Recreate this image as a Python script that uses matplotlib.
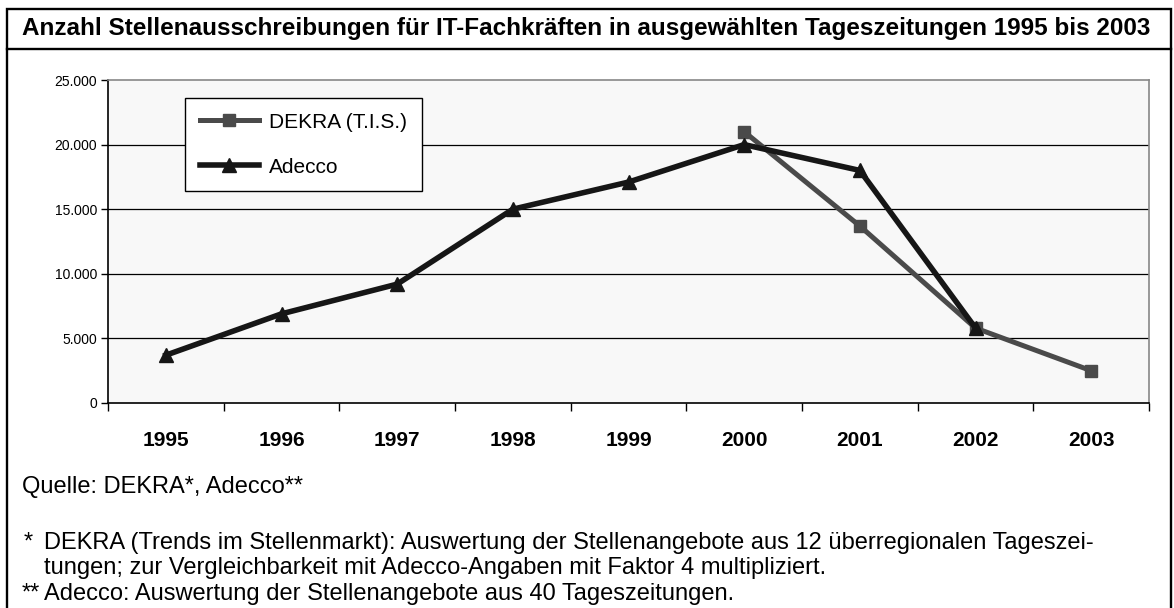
# -*- coding: utf-8 -*-
import matplotlib
matplotlib.use("Agg")
import matplotlib.pyplot as plt
from matplotlib.lines import Line2D
from matplotlib.patches import Rectangle

plt.rcParams['font.family'] = ['Liberation Sans', 'DejaVu Sans']

# Daten
years = ["1995", "1996", "1997", "1998", "1999", "2000", "2001", "2002", "2003"]
adecco = [3700, 6900, 9200, 15000, 17100, 20000, 18000, 5800, None]
dekra = [None, None, None, None, None, 21000, 13700, 5800, 2500]
y_ticks = [0, 5000, 10000, 15000, 20000, 25000]
y_labels = ["0", "5.000", "10.000", "15.000", "20.000", "25.000"]

title = "Anzahl Stellenausschreibungen für IT-Fachkräften in ausgewählten Tageszeitungen 1995 bis 2003"
quelle = "Quelle: DEKRA*, Adecco**"
note1 = ["DEKRA (Trends im Stellenmarkt): Auswertung der Stellenangebote aus 12 überregionalen Tageszei-",
         "tungen; zur Vergleichbarkeit mit Adecco-Angaben mit Faktor 4 multipliziert."]
note2 = "Adecco: Auswertung der Stellenangebote aus 40 Tageszeitungen."

W, H = 1174, 608


def fx(px):
    return px / W


def fy(py):
    return 1 - py / H


fig = plt.figure(figsize=(W / 100, H / 100), dpi=100)

# Rahmen und Titelzeile
fig.patches.append(Rectangle((fx(7), fy(640)), fx(1171) - fx(7), fy(9) - fy(640),
                             transform=fig.transFigure, fill=False, lw=1.7, ec="black"))
fig.lines.append(Line2D([fx(7), fx(1171)], [fy(49), fy(49)], transform=fig.transFigure,
                        lw=1.7, color="black"))
fig.text(fx(22), fy(29), title, fontsize=17.5, fontweight="bold", va="center", ha="left")

# Diagramm
ax_l, ax_r, ax_t, ax_b = 108, 1149, 80, 403
ax = fig.add_axes([fx(ax_l), fy(ax_b), fx(ax_r) - fx(ax_l), fy(ax_t) - fy(ax_b)])
ax.set_facecolor("#f8f8f8")
x = list(range(len(years)))

xd = [i for i, v in zip(x, dekra) if v is not None]
yd = [v for v in dekra if v is not None]
xa = [i for i, v in zip(x, adecco) if v is not None]
ya = [v for v in adecco if v is not None]

ax.plot(xd, yd, color="#4a4a4a", lw=3.6, marker="s", ms=9, label="DEKRA (T.I.S.)", zorder=3)
ax.plot(xa, ya, color="#161616", lw=4, marker="^", ms=10, label="Adecco", zorder=4)

ax.set_xlim(-0.5, len(years) - 0.5)
ax.set_ylim(0, 25000)
ax.set_yticks(y_ticks, labels=y_labels)
ax.set_xticks([i - 0.5 for i in range(len(years) + 1)], labels=[])
ax.set_xticks(x, labels=years, minor=True)
ax.tick_params(axis="x", which="minor", length=0, pad=20, labelsize=15)
ax.tick_params(axis="x", which="major", length=6, width=1, direction="out")
ax.tick_params(axis="y", length=5, width=1, labelsize=10, pad=3)
for lab in ax.get_xticklabels(minor=True):
    lab.set_fontweight("bold")

for v in y_ticks[1:-1]:
    ax.axhline(v, color="black", lw=0.9, zorder=1)

ax.spines["left"].set_color("black")
ax.spines["bottom"].set_color("black")
ax.spines["top"].set_color("#888888")
ax.spines["right"].set_color("#888888")
for s in ax.spines.values():
    s.set_linewidth(1.2)

leg = ax.legend(loc="upper left",
                bbox_to_anchor=((185 - ax_l) / (ax_r - ax_l), (ax_b - 98) / (ax_b - ax_t)),
                fontsize=15, frameon=True, fancybox=False, edgecolor="black", framealpha=1,
                handlelength=2.85, handletextpad=0.5, labelspacing=1.25, borderpad=0.7,
                borderaxespad=0, numpoints=1)
leg.get_frame().set_linewidth(1.0)

# Quellenangaben
fs = 17
fig.text(fx(22), fy(487), quelle, fontsize=fs, va="center", ha="left")
fig.text(fx(24), fy(543), "*", fontsize=fs, va="center", ha="left")
fig.text(fx(44), fy(543), note1[0], fontsize=fs, va="center", ha="left")
fig.text(fx(44), fy(568), note1[1], fontsize=fs, va="center", ha="left")
fig.text(fx(22), fy(594), "**", fontsize=fs, va="center", ha="left")
fig.text(fx(44), fy(594), note2, fontsize=fs, va="center", ha="left")

fig.savefig("out.png", dpi=100)
